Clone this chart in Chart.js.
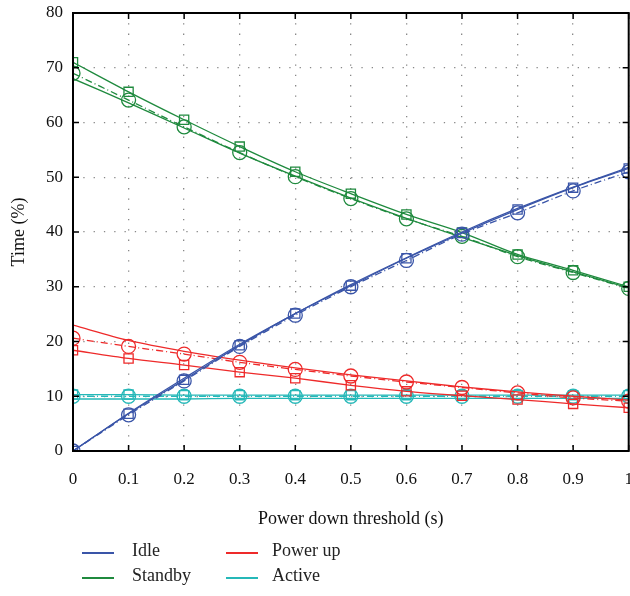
<!DOCTYPE html>
<html>
<head>
<meta charset="utf-8">
<script src="https://cdn.jsdelivr.net/npm/chart.js@4"></script>
<style>
  body { margin: 0; background: #fff; }
  #wrap { position: relative; width: 630px; height: 596px; overflow: hidden; }
  #legend { position: absolute; left: 0; top: 540px; font-family: "Liberation Serif", serif; font-size: 18px; color: #222; }
  .item { position: absolute; white-space: nowrap; }
  .item span { position: absolute; top: 12px; width: 32px; height: 2px; }
  .item b { font-weight: normal; position: absolute; top: 0; }
</style>
</head>
<body>
<div id="wrap">
  <canvas id="chart" width="637" height="596"></canvas>
  <div id="legend"></div>
</div>
<script>
var thresholds = [0, 0.1, 0.2, 0.3, 0.4, 0.5, 0.6, 0.7, 0.8, 0.9, 1];
var yTicks = [0, 10, 20, 30, 40, 50, 60, 70, 80];

// squares (solid line), circles (dash-dot line), extra solid curve
var idleSq = [0, 6.8, 13, 19.3, 25.1, 30.2, 35.2, 39.8, 44.1, 48.1, 51.6];
var idleCi = [0, 6.6, 12.8, 19.1, 24.8, 30, 34.8, 39.6, 43.5, 47.5, 51];
var idleFit = [0, 6.9, 13.3, 19.5, 25.1, 30.4, 35.3, 40, 44.3, 48.2, 51.8];

var standbySq = [71, 65.6, 60.5, 55.6, 51, 47, 43.2, 39.9, 35.9, 33, 30];
var standbyCi = [69, 64.1, 59.2, 54.5, 50.1, 46.1, 42.4, 39.2, 35.5, 32.6, 29.7];
var standbyFit = [68, 63.6, 59, 54.4, 50.2, 46.2, 42.5, 39, 35.7, 32.7, 29.8];

var powerSq = [18.4, 16.9, 15.7, 14.4, 13.3, 12, 10.9, 10.1, 9.4, 8.6, 7.9];
var powerCi = [20.6, 19.1, 17.7, 16.2, 14.9, 13.7, 12.6, 11.6, 10.6, 9.7, 9.1];
var powerFit = [23, 20.2, 18.2, 16.6, 15.2, 13.9, 12.8, 11.7, 10.8, 10, 9.3];

var activeSq = [10.3, 10.3, 10.2, 10.2, 10.2, 10.2, 10.2, 10.2, 10.2, 10.2, 10.2];
var activeCi = [10, 10, 10, 10, 10, 10, 10, 10, 10, 10, 10];
var activeFit = [9.5, 9.5, 9.5, 9.6, 9.6, 9.6, 9.6, 9.6, 9.6, 9.6, 9.6];

var names = ["Idle", "Standby", "Power up", "Active"];
var colors = ["#3a55a8", "#1f8a3e", "#ee2a2a", "#25b8b8"];

var font = "Liberation Serif";

function pts(arr) {
  return arr.map(function (v, i) { return { x: thresholds[i], y: v }; });
}

function series(arr, color, style) {
  var d = {
    data: pts(arr),
    borderColor: color,
    backgroundColor: "transparent",
    borderWidth: 1.3,
    pointBorderWidth: 1.3,
    pointRadius: 0,
    tension: 0.3
  };
  if (style == "sq") { d.pointStyle = "rect"; d.pointRadius = 6.5; }
  if (style == "ci") { d.pointStyle = "circle"; d.pointRadius = 7; d.borderDash = [7, 3, 1, 3]; }
  return d;
}

var datasets = [];
[[idleSq, idleCi, idleFit], [standbySq, standbyCi, standbyFit],
 [powerSq, powerCi, powerFit], [activeSq, activeCi, activeFit]].forEach(function (g, k) {
  datasets.push(series(g[2], colors[k], "fit"));
  datasets.push(series(g[0], colors[k], "sq"));
  datasets.push(series(g[1], colors[k], "ci"));
});

// inward tick marks + frame
var frame = {
  id: "frame",
  afterDraw: function (chart) {
    var c = chart.ctx, a = chart.chartArea;
    var xs = chart.scales.x, ys = chart.scales.y;
    c.save();
    c.strokeStyle = "#000";
    c.lineWidth = 1.5;
    thresholds.forEach(function (t) {
      var px = xs.getPixelForValue(t);
      c.beginPath();
      c.moveTo(px, a.bottom); c.lineTo(px, a.bottom - 6);
      c.moveTo(px, a.top); c.lineTo(px, a.top + 6);
      c.stroke();
    });
    yTicks.forEach(function (t) {
      var py = ys.getPixelForValue(t);
      c.beginPath();
      c.moveTo(a.left, py); c.lineTo(a.left + 6, py);
      c.moveTo(a.right, py); c.lineTo(a.right - 6, py);
      c.stroke();
    });
    c.lineWidth = 2;
    c.strokeRect(a.left, a.top, a.right - a.left, a.bottom - a.top);
    c.restore();
  }
};

var ctx = document.getElementById("chart").getContext("2d");
new Chart(ctx, {
  type: "line",
  data: { datasets: datasets },
  options: {
    responsive: false,
    animation: false,
    layout: { padding: { top: 13, right: 2, bottom: 62, left: 0 } },
    plugins: { legend: { display: false }, tooltip: { enabled: false } },
    scales: {
      x: {
        type: "linear", min: 0, max: 1,
        afterBuildTicks: function (s) { s.ticks = thresholds.map(function (v) { return { value: v }; }); },
        afterFit: function (s) { s.height = 83; s.paddingLeft = 0; s.paddingRight = 0; },
        grid: { color: "#888", lineWidth: 1.3, drawTicks: false },
        border: { display: false, dash: [1.3, 9] },
        ticks: {
          color: "#111", padding: 18, maxRotation: 0,
          font: { family: font, size: 17 },
          callback: function (v) { return String(Number(v.toFixed(1))); }
        },
        title: { display: true, text: "Power down threshold (s)", color: "#111", font: { family: font, size: 18 }, padding: { top: 18 } }
      },
      y: {
        min: 0, max: 80,
        afterBuildTicks: function (s) { s.ticks = yTicks.map(function (v) { return { value: v }; }); },
        afterFit: function (s) { s.width = 73; s.paddingTop = 0; s.paddingBottom = 0; },
        grid: { color: "#888", lineWidth: 1.3, drawTicks: false },
        border: { display: false, dash: [1.3, 9] },
        ticks: { color: "#111", padding: 10, font: { family: font, size: 17 } },
        title: { display: true, text: "Time (%)", color: "#111", font: { family: font, size: 18 }, padding: { top: 8, bottom: 0 } }
      }
    }
  },
  plugins: [frame]
});

// legend, two columns
var legend = document.getElementById("legend");
var spots = [[82, 0], [82, 25], [226, 0], [226, 25]];
names.forEach(function (name, k) {
  var it = document.createElement("div");
  it.className = "item";
  it.style.left = spots[k][0] + "px";
  it.style.top = spots[k][1] + "px";
  it.innerHTML = '<span style="background:' + colors[k] + '"></span><b style="left:' + (k < 2 ? 50 : 46) + 'px">' + name + '</b>';
  legend.appendChild(it);
});
</script>
</body>
</html>
